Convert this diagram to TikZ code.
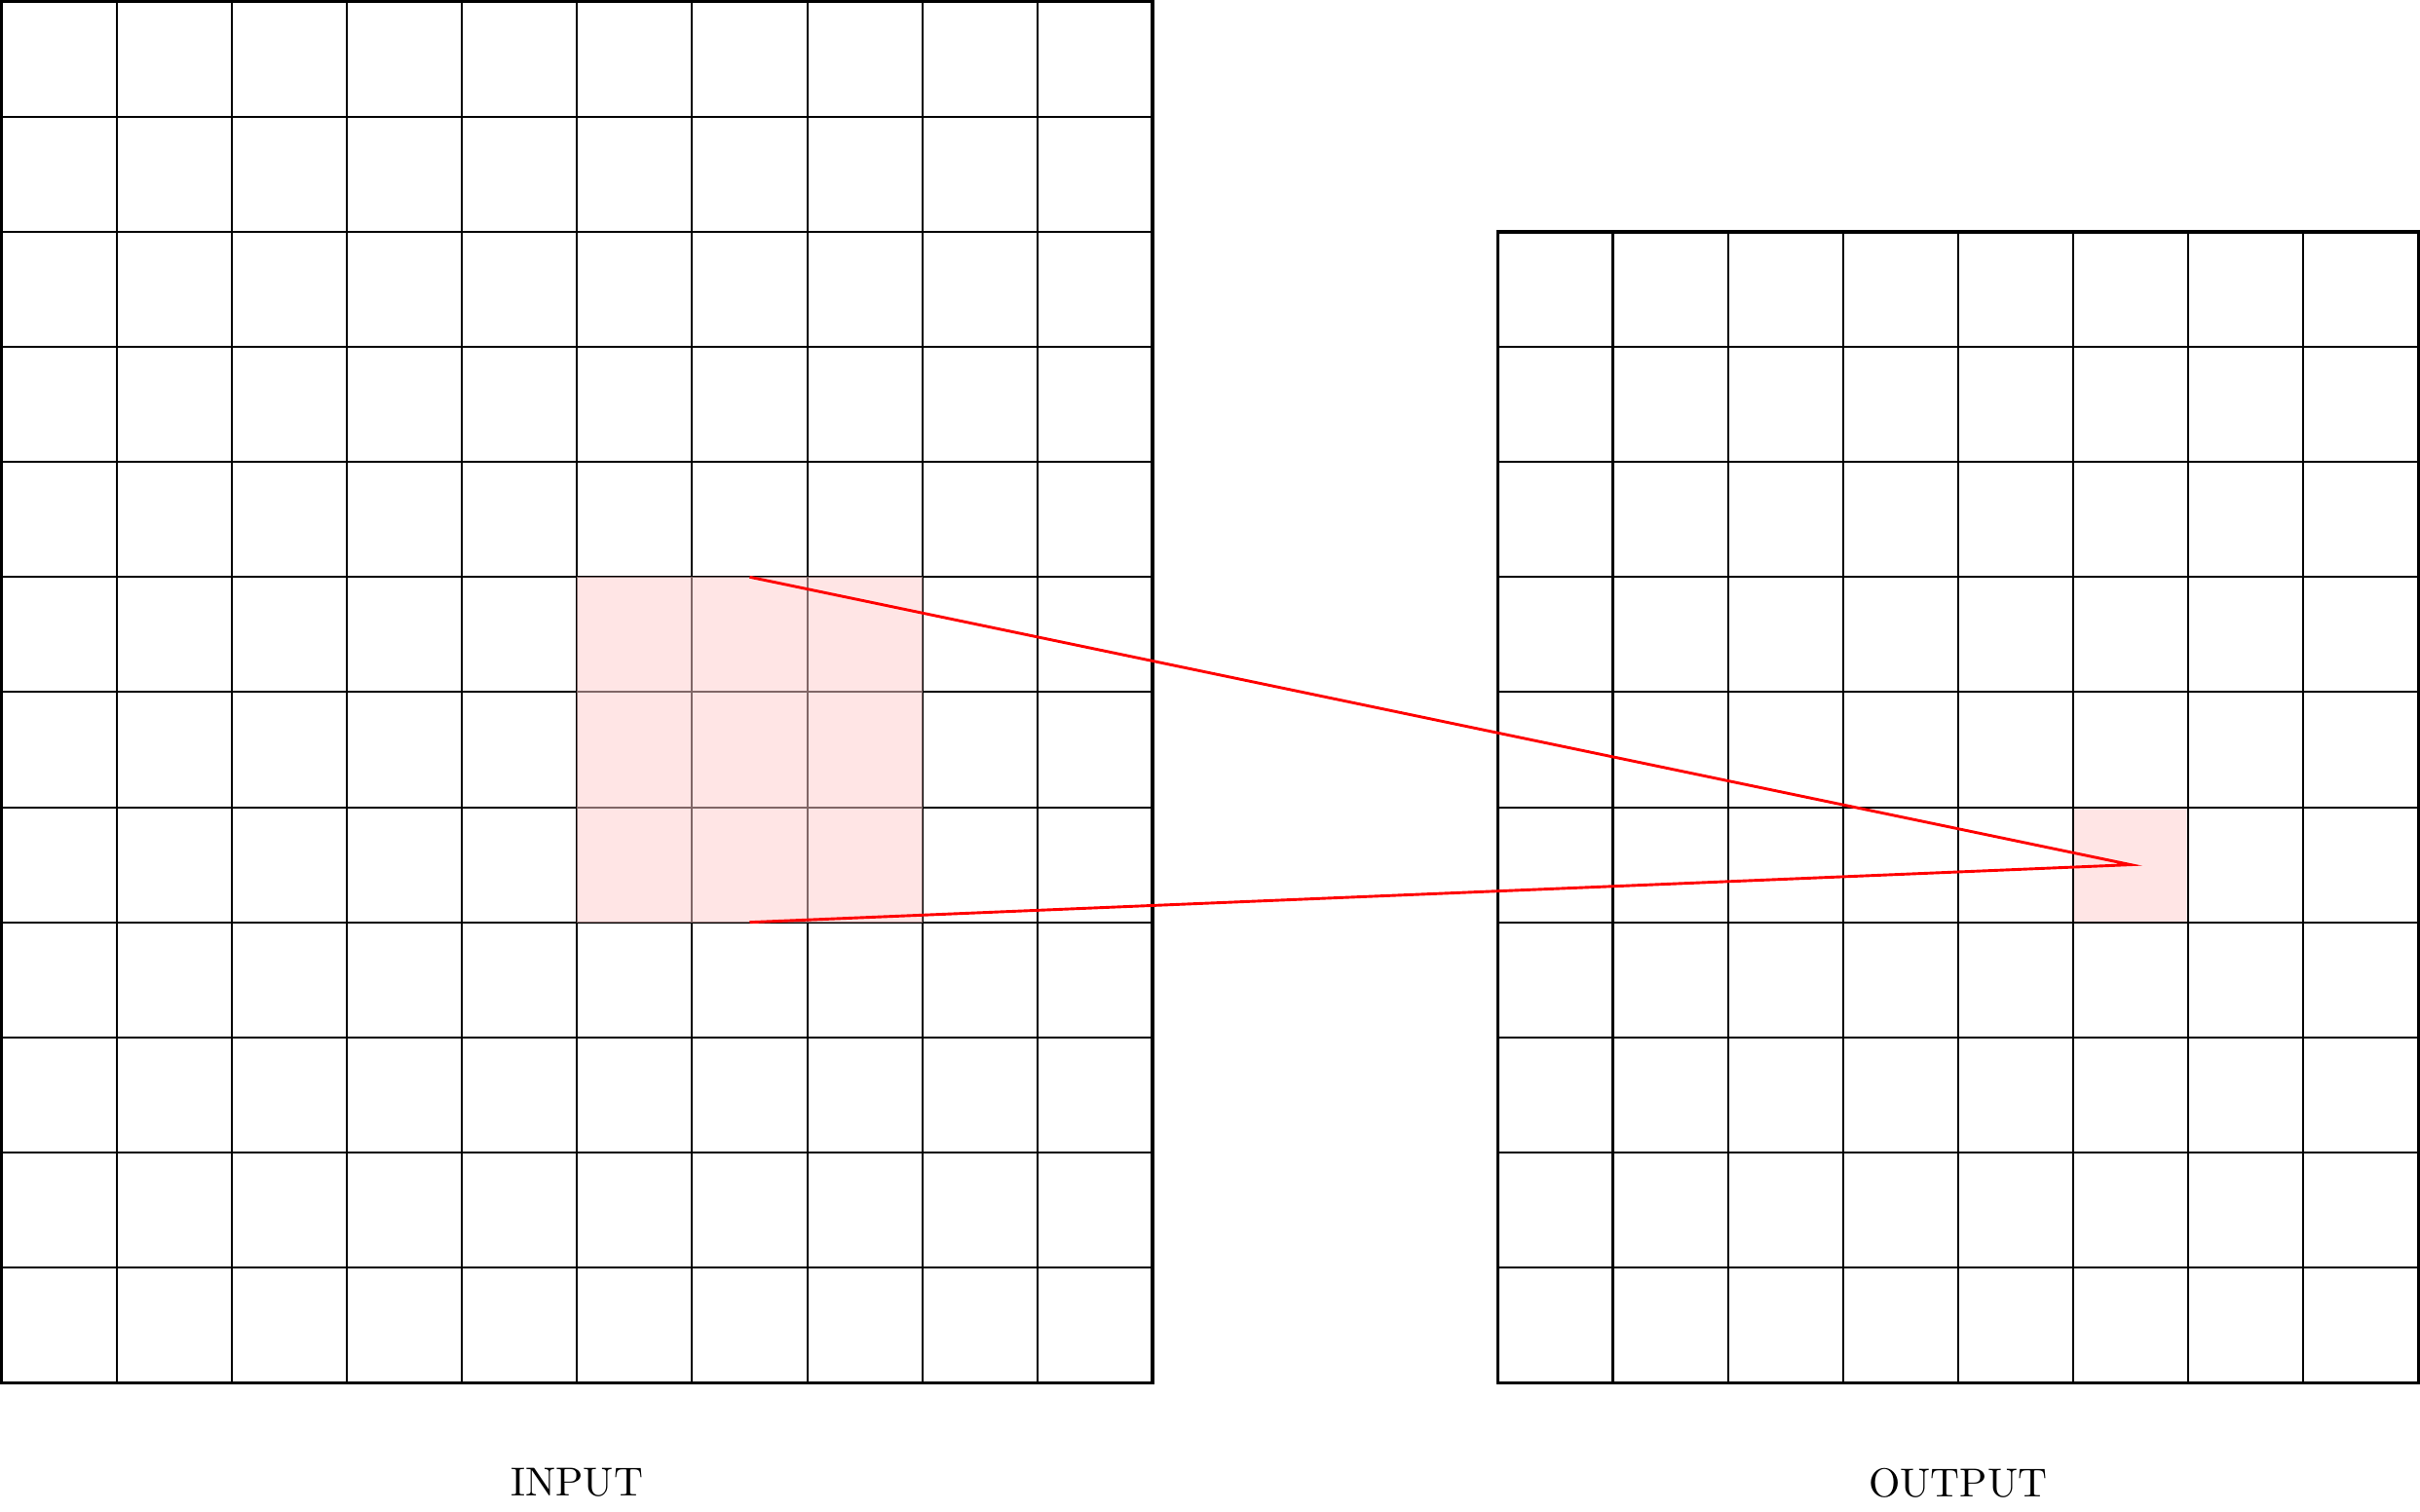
\documentclass[tikz,border=0pt]{standalone}
\begin{document}
\begin{tikzpicture}[x=1cm,y=1cm,
  gridline/.style={line width=0.5pt,black},
  frame/.style={thick,black},
  hilite/.style={fill=red!20,fill opacity=0.5},
  link/.style={red,line width=0.7pt,line join=miter},
  caption/.style={font=\normalsize}]
\useasboundingbox (-0.014,-1.116) rectangle (21.014,12.014);
% output highlight (under grid)
\fill[hilite] (18,4) rectangle (19,5);
% input grid
\draw[gridline] (0,0) grid (10,12);
\draw[frame] (0,0) rectangle (10,12);
% output grid
\draw[gridline] (13,0) grid (21,10);
\draw[frame] (13,0) rectangle (21,10);
% input highlight (over grid)
\fill[hilite] (5,4) rectangle (8,7);
% connector
\coordinate (a) at (6.5,7);
\coordinate (b) at (6.5,4);
\coordinate (t) at (18.5,4.5);
\draw[link] (a) -- (t) -- (b);
% captions
\node[caption] (in) at (5,-0.87) {INPUT};
\node[caption] (out) at (17,-0.87) {OUTPUT};
\end{tikzpicture}
\end{document}
